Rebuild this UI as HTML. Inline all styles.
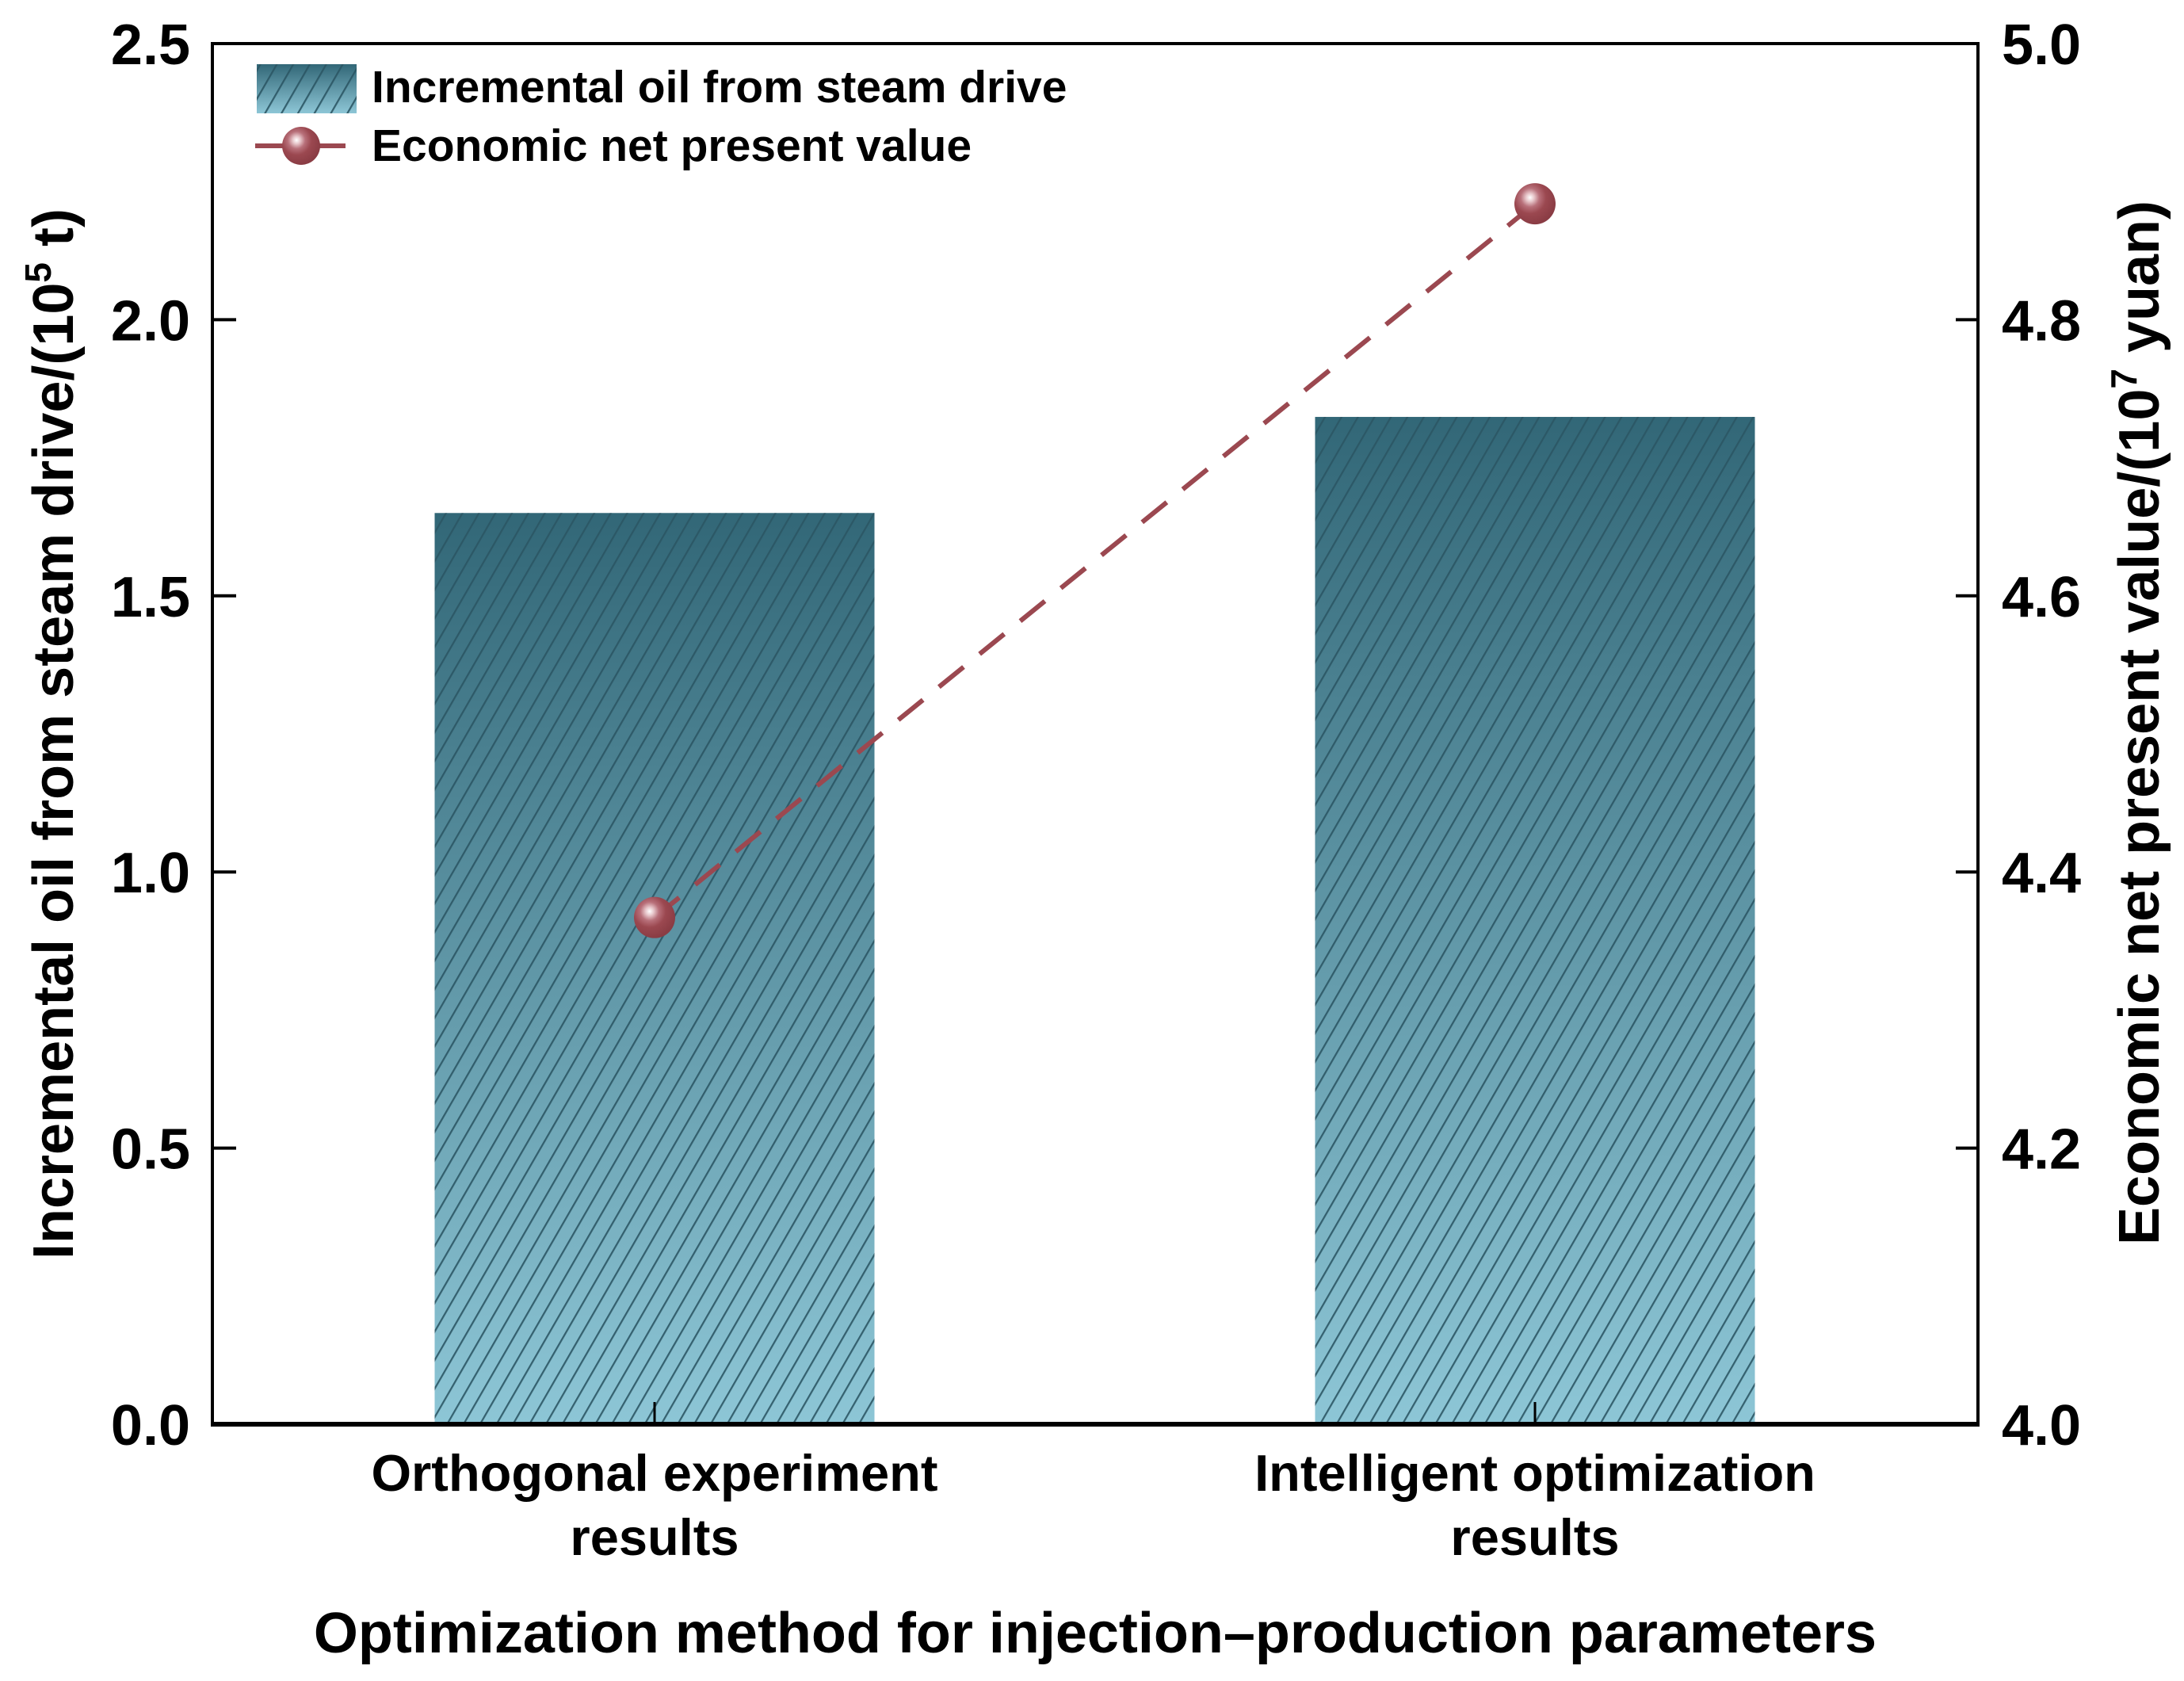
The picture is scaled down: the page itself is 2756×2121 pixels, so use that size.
<!DOCTYPE html>
<html><head><meta charset="utf-8"><style>
html,body{margin:0;padding:0;background:#fff}
svg{display:block;font-family:"Liberation Sans",Arial,sans-serif;font-weight:bold}
</style></head><body>
<svg id="chart" width="2756" height="2121" viewBox="0 0 2756 2121">
<defs>
<linearGradient id="barGrad" x1="0" y1="0" x2="0" y2="1">
<stop offset="0" stop-color="#326777"/><stop offset="1" stop-color="#8dc6d6"/>
</linearGradient>
<pattern id="hatch" width="18" height="18" patternUnits="userSpaceOnUse" patternTransform="rotate(30)">
<line x1="0" y1="0" x2="0" y2="18" stroke="#2b5664" stroke-width="4.5"/>
</pattern>
<radialGradient id="ball" cx="0.38" cy="0.35" r="0.65">
<stop offset="0" stop-color="#ffffff"/><stop offset="0.15" stop-color="#e8c8cc"/><stop offset="0.35" stop-color="#b8707a"/><stop offset="0.6" stop-color="#9b4850"/><stop offset="1" stop-color="#8a3c44"/>
</radialGradient>
</defs>
<g id="plot"></g>
</svg>
<script>
const categories = ["Orthogonal experiment|results", "Intelligent optimization|results"];
const oilValues = [1.65, 1.824];
const npvValues = [4.367, 4.884];
const leftTicks = [0.0, 0.5, 1.0, 1.5, 2.0, 2.5];
const rightTicks = [4.0, 4.2, 4.4, 4.6, 4.8, 5.0];

const NS = "http://www.w3.org/2000/svg";
const L = 268, R = 2496, T = 55, B = 1797;
const yL = v => B - (v - 0) / 2.5 * (B - T);
const yR = v => B - (v - 4) / 1.0 * (B - T);
const xC = i => L + (i + 0.5) / categories.length * (R - L) + (i === 0 ? 1 : -2);
const barW = 555;
const g = document.getElementById('plot');
function mk(tag, attrs, parent) {
  const e = document.createElementNS(NS, tag);
  for (const k in attrs) e.setAttribute(k, attrs[k]);
  (parent || g).appendChild(e);
  return e;
}

oilValues.forEach((v, i) => {
  const x = xC(i) - barW / 2, y = yL(v), h = B - y;
  const b = mk('rect', {x: x, y: y, width: barW, height: h, fill: 'url(#barGrad)'});
  
  
  const hh = mk('rect', {x: x, y: y, width: barW, height: h, fill: 'url(#hatch)', opacity: 0.9});
  
  
});

const frame = mk('rect', {x: L, y: T, width: R - L, height: B - T, fill: 'none', stroke: '#000', 'stroke-width': 4});


const xAxis = mk('line', {x1: L - 2, y1: B, x2: R + 2, y2: B, stroke: '#000', 'stroke-width': 6});



leftTicks.forEach(v => {
  const y = yL(v);
  mk('line', {x1: L, y1: y, x2: L + 30, y2: y, stroke: '#000', 'stroke-width': 4});
  const t = mk('text', {x: 240, y: y + 26, 'text-anchor': 'end', 'font-size': 72});
  t.textContent = v.toFixed(1);
  
  
});
rightTicks.forEach(v => {
  const y = yR(v);
  mk('line', {x1: R - 28, y1: y, x2: R, y2: y, stroke: '#000', 'stroke-width': 4});
  const t = mk('text', {x: 2526, y: y + 26, 'text-anchor': 'start', 'font-size': 72});
  t.textContent = v.toFixed(1);
  
  
});
categories.forEach((c, i) => {
  const x = xC(i);
  mk('line', {x1: x, y1: B, x2: x, y2: B - 28, stroke: '#000', 'stroke-width': 3});
  const parts = c.split('|');
  parts.forEach((p, j) => {
    const t = mk('text', {x: x, y: 1881 + j * 81, 'text-anchor': 'middle', 'font-size': 65});
    t.textContent = p;
    
    
  });
});

const pts = npvValues.map((v, i) => [xC(i), yR(v)]);
const ln = mk('line', {x1: pts[0][0], y1: pts[0][1], x2: pts[1][0], y2: pts[1][1], stroke: '#9b4850', 'stroke-width': 6, 'stroke-dasharray': '40 26'});


pts.forEach((p, i) => {
  const c = mk('circle', {cx: p[0], cy: p[1], r: 26, fill: 'url(#ball)'});
  
  
});

const lp = mk('rect', {x: 324, y: 81, width: 126, height: 62, fill: 'url(#barGrad)'});


mk('rect', {x: 324, y: 81, width: 126, height: 62, fill: 'url(#hatch)', opacity: 0.9});
const lt1 = mk('text', {x: 469, y: 129, 'font-size': 57});
lt1.textContent = 'Incremental oil from steam drive';


const ll = mk('line', {x1: 322, y1: 184, x2: 436, y2: 184, stroke: '#9b4850', 'stroke-width': 6});


mk('circle', {cx: 380, cy: 184, r: 24, fill: 'url(#ball)'});
const lt2 = mk('text', {x: 469, y: 203, 'font-size': 57});
lt2.textContent = 'Economic net present value';



const yt = mk('text', {x: 0, y: 0, 'text-anchor': 'middle', 'font-size': 72, transform: 'translate(92,926) rotate(-90)'});
yt.innerHTML = 'Incremental oil from steam drive/(10<tspan dy="-28" font-size="46">5</tspan><tspan dy="28"> t)</tspan>';


const yt2 = mk('text', {x: 0, y: 0, 'text-anchor': 'middle', 'font-size': 72, transform: 'translate(2724,912) rotate(-90)'});
yt2.innerHTML = 'Economic net present value/(10<tspan dy="-28" font-size="46">7</tspan><tspan dy="28"> yuan)</tspan>';


const xt = mk('text', {x: 1382, y: 2085, 'text-anchor': 'middle', 'font-size': 72});
xt.textContent = 'Optimization method for injection\u2013production parameters';


</script>
</body></html>
